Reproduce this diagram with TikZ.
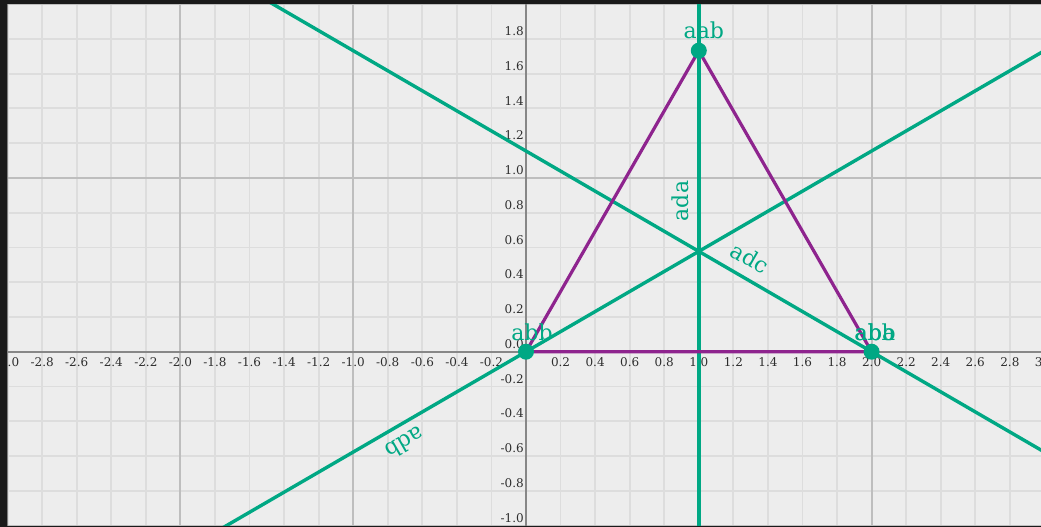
\documentclass[tikz,border=0pt]{standalone}
\usepackage{fontspec}
\setmainfont{DejaVu Serif}
\definecolor{gr}{RGB}{0,168,132}
\definecolor{pu}{RGB}{142,36,142}
\definecolor{bg}{RGB}{237,237,237}
\definecolor{minorc}{RGB}{221,221,221}
\definecolor{majorc}{RGB}{190,190,190}
\definecolor{axisc}{RGB}{135,135,135}
\definecolor{framec}{RGB}{26,26,26}
\definecolor{tickc}{RGB}{45,45,45}
\tikzset{
  gline/.style={draw=gr,line width=3.4pt},
  tri/.style={draw=pu,line width=3.2pt,line join=round},
  vtx/.style={circle,fill=gr,inner sep=0pt,minimum size=16pt},
  vlabel/.style={text=gr,font=\fontsize{22}{22}\selectfont,inner sep=0pt},
  llabel/.style={text=gr,font=\fontsize{22}{22}\selectfont,inner sep=0pt},
  xtick/.style={text=tickc,font=\fontsize{12}{12}\selectfont,inner sep=0pt,anchor=north,yshift=-6pt},
  ytick/.style={text=tickc,font=\fontsize{12}{12}\selectfont,inner sep=0pt,anchor=south east,xshift=-2pt,yshift=3pt}
}
\begin{document}
\begin{tikzpicture}[x=172.8pt,y=173.8pt]
\useasboundingbox (-3.044,-1.0086) rectangle (2.9803,2.0236);
\fill[framec] (-3.044,-1.0086) rectangle (2.9803,2.0236);
\fill[bg] (-3,-1) rectangle (2.9803,2);
\begin{scope}
\clip (-3,-1) rectangle (2.9803,2);
\draw[minorc,line width=1.8pt] (-3,-1) grid[step=0.2] (3,2);
\draw[majorc,line width=1.8pt] (-3,-1) grid[step=1] (3,2);
\coordinate (xl) at (-3.1,0);
\coordinate (xr) at (3.1,0);
\coordinate (yb) at (0,-1.1);
\coordinate (yt) at (0,2.1);
\draw[axisc,line width=2.2pt] (xl) -- (xr);
\draw[axisc,line width=2.2pt] (yb) -- (yt);
\foreach \v [count=\k] in {-3.0,-2.8,-2.6,-2.4,-2.2,-2.0,-1.8,-1.6,-1.4,-1.2,-1.0,-0.8,-0.6,-0.4,-0.2,0.2,0.4,0.6,0.8,1.0,1.2,1.4,1.6,1.8,2.0,2.2,2.4,2.6,2.8,3.0}
  \node[xtick] (xt\k) at (\v,0) {\v};
\foreach \v [count=\k] in {-1.0,-0.8,-0.6,-0.4,-0.2,0.0,0.2,0.4,0.6,0.8,1.0,1.2,1.4,1.6,1.8}
  \node[ytick] (yt\k) at (0,\v) {\v};
% vertices
\coordinate (A) at (0,0);
\coordinate (B) at (2,0);
\coordinate (C) at (1,{sqrt(3)});
% green lines
\coordinate (adaT) at (1,2.1);
\coordinate (adaB) at (1,-1.1);
\coordinate (adbL) at (-2,{-2/sqrt(3)});
\coordinate (adbR) at (3.1,{3.1/sqrt(3)});
\coordinate (adcL) at (-1.7,{3.7/sqrt(3)});
\coordinate (adcR) at (3.1,{-1.1/sqrt(3)});
\draw[gline] (adaB) -- (adaT);
\draw[gline] (adbL) -- (adbR);
\draw[gline] (adcL) -- (adcR);
% triangle
\draw[tri] (A) -- (C) -- (B) -- cycle;
% points
\node[vtx] (pA) at (A) {};
\node[vtx] (pB) at (B) {};
\node[vtx] (pC) at (C) {};
% labels
\node[vlabel] (lC) at ([xshift=5pt,yshift=20pt]C) {aab};
\node[vlabel] (lA) at ([xshift=6pt,yshift=19pt]A) {abb};
\node[vlabel] (lB1) at ([xshift=3.5pt,yshift=19pt]B) {aba};
\node[vlabel] (lB2) at ([xshift=3.5pt,yshift=19pt]B) {abb};
\node[llabel,rotate=90] (lada) at (0.894,0.867) {ada};
\node[llabel,rotate=-30] (ladc) at (1.296,0.539) {adc};
\node[llabel,rotate=210] (ladb) at (-0.700,-0.525) {adb};
\end{scope}
\end{tikzpicture}
\end{document}
